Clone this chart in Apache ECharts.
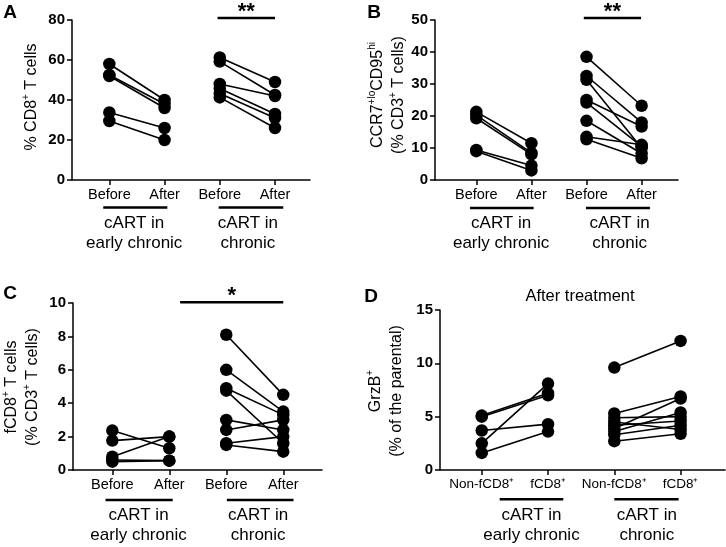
<!DOCTYPE html>
<html><head><meta charset="utf-8">
<script src="https://cdn.jsdelivr.net/npm/echarts@6/dist/echarts.min.js"></script>
<style>html,body{margin:0;padding:0;background:#fff}#c{width:726px;height:547px}</style>
</head><body><div id="c"></div>
<script>
// ---- data ----
const catsBA = ['Before', 'After', 'Before', 'After'];
const catsD = ['Non-fCD8\u207A', 'fCD8\u207A', 'Non-fCD8\u207A', 'fCD8\u207A'];

const aEarlyBefore = [58, 52.5, 52, 33.8, 29.5];
const aEarlyAfter  = [40, 38, 36, 26, 20];
const aChronBefore = [61.3, 59.2, 48, 45.8, 43.3, 41.3];
const aChronAfter  = [49, 42.5, 42, 33, 31, 26];

const bEarlyBefore = [21.3, 20.3, 19.3, 9.4, 9];
const bEarlyAfter  = [11.5, 8.5, 8, 4.5, 3];
const bChronBefore = [38.5, 32.5, 31.3, 25, 24.2, 18.5, 13.5, 12.7];
const bChronAfter  = [23.2, 18, 10, 16.7, 10.5, 8.3, 11, 6.8];

const cEarlyBefore = [2.36, 1.76, 0.8, 0.6, 0.5];
const cEarlyAfter  = [1.3, 2.0, 2.0, 0.56, 0.56];
const cChronBefore = [8.1, 6.0, 4.9, 4.75, 3.0, 2.4, 1.6, 1.5];
const cChronAfter  = [4.5, 3.5, 3.3, 1.6, 2.4, 3.0, 2.0, 1.1];

const dEarlyNon  = [5.1, 5.0, 3.7, 2.5, 1.6];
const dEarlyF    = [7.2, 7.0, 4.3, 8.1, 3.6];
const dChronNon  = [9.6, 5.3, 4.9, 4.5, 4.2, 3.9, 3.6, 3.3, 2.7];
const dChronF    = [12.1, 6.9, 5.0, 3.8, 4.6, 6.7, 5.4, 4.2, 3.4];

const yTicksA = [0, 80, 20];
const yTicksB = [0, 50, 10];
const yTicksC = [0, 10, 2];
const yTicksD = [0, 15, 5];

// ---- layout ----
const FONT = '"Liberation Sans", Arial, Helvetica, sans-serif';
const panels = [
  { grid: {left: 72, top: 20, width: 238, height: 160}, y: yTicksA, xr: [0.324, 4.634], cats: catsBA, catFont: 14.5,
    groups: [[aEarlyBefore, aEarlyAfter], [aChronBefore, aChronAfter]],
    ul: [[0.89, 2.05], [2.98, 4.15]], ulOff: 27.5, gc: [1.45, 3.51], gOff: 33,
    sig: {x: [2.96, 4.0], y: 81, t: '**'} },
  { grid: {left: 435, top: 20, width: 243, height: 160}, y: yTicksB, xr: [0.25, 4.66], cats: catsBA, catFont: 14.5,
    groups: [[bEarlyBefore, bEarlyAfter], [bChronBefore, bChronAfter]],
    ul: [[0.886, 2.04], [2.99, 4.15]], ulOff: 28, gc: [1.45, 3.6], gOff: 33,
    sig: {x: [2.95, 3.99], y: 50.6, t: '**'} },
  { grid: {left: 73, top: 303, width: 249, height: 167}, y: yTicksC, xr: [0.31, 4.68], cats: catsBA, catFont: 14.5,
    groups: [[cEarlyBefore, cEarlyAfter], [cChronBefore, cChronAfter]],
    ul: [[0.88, 2.06], [3.01, 4.18]], ulOff: 30, gc: [1.46, 3.56], gOff: 35,
    sig: {x: [2.19, 4.0], y: 10.05, t: '*'} },
  { grid: {left: 440, top: 310, width: 285, height: 160}, y: yTicksD, xr: [0.37, 4.67], cats: catsD, catFont: 13.5,
    groups: [[dEarlyNon, dEarlyF], [dChronNon, dChronF]],
    ul: [[1.27, 2.23], [3.0, 3.97]], ulOff: 29.3, gc: [1.75, 3.49], gOff: 35,
    sig: null }
];

const chart = echarts.init(document.getElementById('c'), null, {renderer: 'canvas'});
const grids = [], xAxes = [], yAxes = [], series = [];
panels.forEach((p, i) => {
  grids.push(Object.assign({containLabel: false}, p.grid));
  xAxes.push({
    type: 'value', gridIndex: i, min: p.xr[0], max: p.xr[1],
    axisLine: {show: true, lineStyle: {color: '#000', width: 1.5}},
    axisTick: {show: true, customValues: [1, 2, 3, 4], length: 5, lineStyle: {color: '#000', width: 1.5}},
    axisLabel: {show: true, customValues: [1, 2, 3, 4], formatter: v => p.cats[Math.round(v) - 1],
      color: '#000', fontSize: p.catFont, fontFamily: FONT, margin: 7},
    splitLine: {show: false}
  });
  yAxes.push({
    type: 'value', gridIndex: i, min: p.y[0], max: p.y[1], interval: p.y[2],
    axisLine: {show: true, lineStyle: {color: '#000', width: 1.5}},
    axisTick: {show: true, length: 5, lineStyle: {color: '#000', width: 1.5}},
    axisLabel: {color: '#000', fontSize: 15, fontWeight: 'bold', fontFamily: FONT, margin: 7},
    splitLine: {show: false}
  });
  const pts = [];
  p.groups.forEach((g, gi) => {
    const x0 = gi * 2 + 1, x1 = gi * 2 + 2;
    g[0].forEach((b, k) => {
      const a = g[1][k];
      series.push({type: 'line', xAxisIndex: i, yAxisIndex: i, data: [[x0, b], [x1, a]],
        symbol: 'none', lineStyle: {color: '#000', width: 1.6}, z: 2, silent: true});
      pts.push([x0, b], [x1, a]);
    });
  });
  series.push({type: 'scatter', xAxisIndex: i, yAxisIndex: i, data: pts, symbol: 'circle', symbolSize: 12.5,
    itemStyle: {color: '#000', opacity: 1}, z: 3, silent: true});
});

chart.setOption({animation: false, backgroundColor: '#fff', grid: grids, xAxis: xAxes, yAxis: yAxes, series: series});

// ---- annotations ----
const graphic = [];
const txt = (x, y, text, o) => graphic.push(Object.assign({type: 'text', x: x, y: y,
  style: Object.assign({text: text, fill: '#000', fontFamily: FONT, fontSize: 16, align: 'center', verticalAlign: 'middle'}, o.style || {})},
  o.rotation !== undefined ? {rotation: o.rotation} : {}));
const line = (x1, y1, x2, y2, w) => graphic.push({type: 'line', shape: {x1, y1, x2, y2}, style: {stroke: '#000', lineWidth: w}});

panels.forEach((p, i) => {
  const base = chart.convertToPixel({gridIndex: i}, [1, 0])[1];
  p.ul.forEach((u, j) => {
    const xa = chart.convertToPixel({gridIndex: i}, [u[0], 0])[0];
    const xb = chart.convertToPixel({gridIndex: i}, [u[1], 0])[0];
    line(xa, base + p.ulOff, xb, base + p.ulOff, 2.5);
    const xc = chart.convertToPixel({gridIndex: i}, [p.gc[j], 0])[0];
    txt(xc, base + p.gOff, j === 0 ? 'cART in\nearly chronic' : 'cART in\nchronic',
      {style: {fontSize: 17, lineHeight: 20, verticalAlign: 'top'}});
  });
  if (p.sig) {
    const a = chart.convertToPixel({gridIndex: i}, [p.sig.x[0], p.sig.y]);
    const b = chart.convertToPixel({gridIndex: i}, [p.sig.x[1], p.sig.y]);
    line(a[0], a[1], b[0], a[1], 2.5);
    txt((a[0] + b[0]) / 2, a[1] - 6, p.sig.t, {style: {fontSize: 22, fontWeight: 'bold'}});
  }
});

// panel letters
txt(10, 13, 'A', {style: {fontSize: 19, fontWeight: 'bold'}});
txt(374, 13, 'B', {style: {fontSize: 19, fontWeight: 'bold'}});
txt(10, 294, 'C', {style: {fontSize: 19, fontWeight: 'bold'}});
txt(371, 297, 'D', {style: {fontSize: 19, fontWeight: 'bold'}});
// D title
txt(580, 296, 'After treatment', {style: {fontSize: 16.5}});

// y-axis titles (rotated, rich superscripts)
const rich = {n: {fontSize: 16, fontFamily: FONT, lineHeight: 21}, s: {fontSize: 10, fontFamily: FONT, verticalAlign: 'top', lineHeight: 21}};
const R = Math.PI / 2;
txt(32, 97, '{n|% CD8}{s|+}{n| T cells}', {rotation: R, style: {rich: rich}});
txt(388, 95, '{n|CCR7}{s|+lo}{n|CD95}{s|hi}\n{n|(% CD3}{s|+}{n| T cells)}', {rotation: R, style: {rich: rich, lineHeight: 21}});
txt(22.5, 387, '{n|fCD8}{s|+}{n| T cells}\n{n|(% CD3}{s|+}{n| T cells)}', {rotation: R, style: {rich: rich, lineHeight: 21}});
txt(386, 391, '{n|GrzB}{s|+}\n{n|(% of the parental)}', {rotation: R, style: {rich: rich, lineHeight: 21}});

chart.setOption({graphic: graphic});
</script></body></html>
